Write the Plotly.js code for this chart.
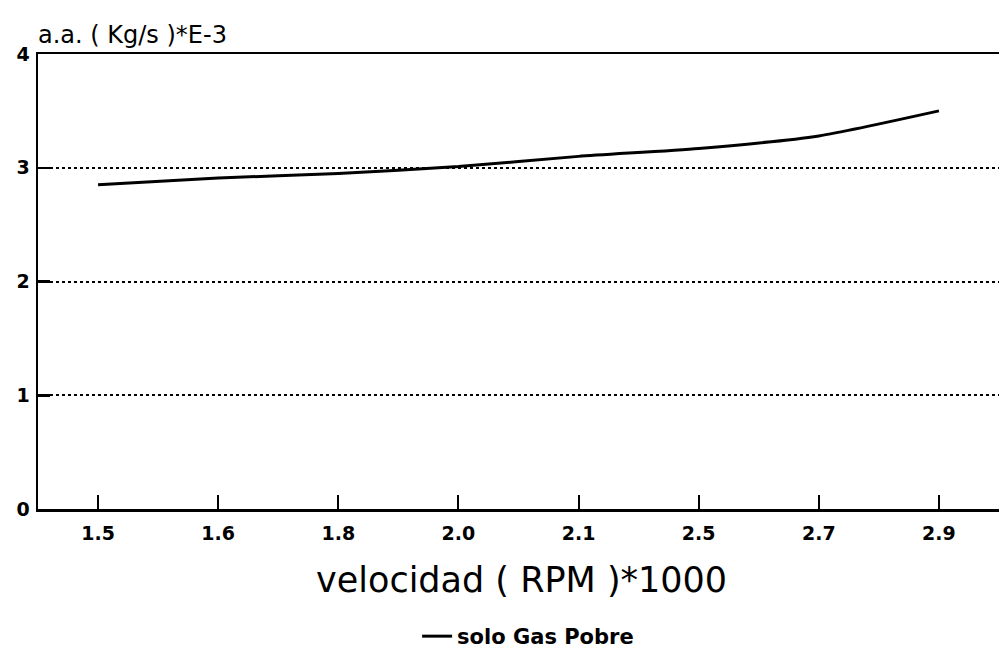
<!DOCTYPE html>
<html><head><meta charset="utf-8">
<script src="https://cdn.plot.ly/plotly-3.0.1.min.js"></script>
<style>html,body{margin:0;padding:0;background:#fff}#c{width:999px;height:657px}</style>
</head><body><div id="c"></div>
<script>
const categories = ["1.5","1.6","1.8","2.0","2.1","2.5","2.7","2.9"];
const soloGasPobre = [2.85, 2.91, 2.95, 3.01, 3.10, 3.17, 3.28, 3.50];
const yTicks = [0,1,2,3,4];
const seriesName = "solo Gas Pobre";
const xTitle = "velocidad ( RPM )*1000";
const yTitle = "a.a. ( Kg/s )*E-3";

const font = "DejaVu Sans, Liberation Sans, sans-serif";
const trace = {
  x: categories, y: soloGasPobre, type: "scatter", mode: "lines",
  name: seriesName, line: {color: "#000", width: 3, shape: "spline", smoothing: 0.6}
};
const layout = {
  width: 999, height: 657,
  margin: {l: 38, r: 0, t: 54, b: 144},
  paper_bgcolor: "#fff", plot_bgcolor: "#fff",
  showlegend: true,
  legend: {orientation: "h", x: 0.51, xanchor: "center", y: -0.281, yanchor: "middle",
           font: {family: font, size: 21, color: "#000", weight: "bold"}},
  xaxis: {type: "category", range: [-0.5, 7.5], showline: true, linewidth: 2.5, linecolor: "#000",
          mirror: true, ticks: "inside", ticklen: 14, tickwidth: 2, tickcolor: "#000",
          showgrid: false, zeroline: false, layer: "above traces", ticklabelstandoff: 6,
          tickfont: {family: font, size: 19, color: "#000", weight: "bold"}},
  yaxis: {range: [0, 4], tickvals: yTicks, showline: true, linewidth: 2.5, linecolor: "#000",
          ticks: "inside", ticklen: 12, tickwidth: 2.5, tickcolor: "#000",
          showgrid: true, gridcolor: "#000", griddash: "dot", gridwidth: 2, zeroline: false,
          ticklabelstandoff: 2, layer: "above traces",
          tickfont: {family: font, size: 19, color: "#000", weight: "bold"}},
  annotations: [
    {text: xTitle, xref: "paper", yref: "paper", x: 0.503, y: -0.157, xanchor: "center", yanchor: "middle",
     showarrow: false, font: {family: font, size: 35, color: "#000"}},
    {text: yTitle, xref: "paper", yref: "paper", x: -0.002, y: 1.041, xanchor: "left", yanchor: "middle",
     showarrow: false, font: {family: font, size: 24, color: "#000"}}
  ]
};
Plotly.newPlot("c", [trace], layout, {displayModeBar: false, staticPlot: true});
</script></body></html>
